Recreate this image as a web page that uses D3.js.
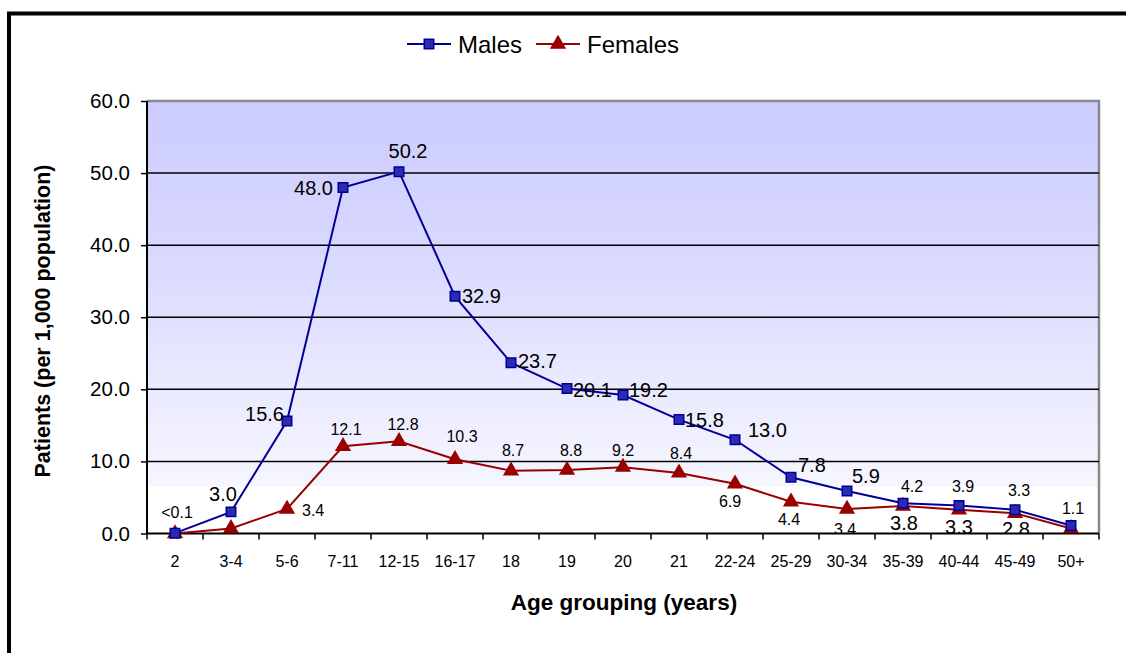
<!DOCTYPE html>
<html>
<head>
<meta charset="utf-8">
<script src="https://cdn.jsdelivr.net/npm/d3@7"></script>
<style>
  html, body { margin: 0; padding: 0; background: #fff; }
  svg { display: block; }
  text { font-family: Arial, "Liberation Sans", sans-serif; fill: #000; }
</style>
</head>
<body>
<svg id="chart" width="1126" height="653"></svg>
<script>
// Age groups along the x axis
const categories = ["2", "3-4", "5-6", "7-11", "12-15", "16-17", "18", "19", "20", "21",
  "22-24", "25-29", "30-34", "35-39", "40-44", "45-49", "50+"];

// Patients per 1,000 population
const males   = [0.05, 3.0, 15.6, 48.0, 50.2, 32.9, 23.7, 20.1, 19.2, 15.8, 13.0, 7.8, 5.9, 4.2, 3.9, 3.3, 1.1];
const females = [0.0, 0.7, 3.4, 12.1, 12.8, 10.3, 8.7, 8.8, 9.2, 8.4, 6.9, 4.4, 3.4, 3.8, 3.3, 2.8, 0.7];

// Data label text (null = no label shown)
const maleLabels   = ["<0.1", "3.0", "15.6", "48.0", "50.2", "32.9", "23.7", "20.1", "19.2", "15.8",
  "13.0", "7.8", "5.9", "4.2", "3.9", "3.3", "1.1"];
const femaleLabels = [null, null, "3.4", "12.1", "12.8", "10.3", "8.7", "8.8", "9.2", "8.4",
  "6.9", "4.4", "3.4", "3.8", "3.3", "2.8", null];

const yTicks = [0, 10, 20, 30, 40, 50, 60];

// Label placement: [anchor, dx, dy, fontSize] relative to the marker
const maleLabelPlace = [
  ["middle", 2, -21, 16], ["middle", -8, -18, 20], ["end", -3, -7, 20], ["end", -10, 0, 20],
  ["middle", 9, -21, 20], ["start", 7, 0, 20], ["start", 7, -2, 20], ["start", 6, 1, 20],
  ["start", 6, -5, 20], ["start", 6, 0, 20], ["start", 13, -10, 20], ["start", 7, -12, 20],
  ["start", 5, -15, 20], ["middle", 9, -17, 16], ["middle", 4, -19, 16], ["middle", 4, -19, 16],
  ["middle", 2, -17, 16]
];
const femaleLabelPlace = [
  null, null, ["start", 15, 2, 16], ["middle", 3, -17, 16], ["middle", 4, -17, 16],
  ["middle", 7, -23, 16], ["middle", 2, -20, 16], ["middle", 4, -20, 16], ["middle", 0, -17, 16],
  ["middle", 2, -19, 16], ["middle", -5, 18, 16], ["middle", -2, 18, 16], ["middle", -2, 21, 16],
  ["middle", 1, 17, 20], ["middle", 0, 17, 20], ["middle", 1, 16, 20], null
];

const maleColor = "#000099";
const femaleColor = "#990000";

const svg = d3.select("#chart");
const plot = { left: 147, right: 1099, top: 101, bottom: 533.5 };

// Outer chart frame (runs past the right and bottom edges)
svg.append("rect")
  .attr("x", 9).attr("y", 13.5)
  .attr("width", 1200).attr("height", 700)
  .attr("fill", "none").attr("stroke", "#000").attr("stroke-width", 4);

const x = d3.scaleBand().domain(categories).range([plot.left, plot.right]).padding(0);
const y = d3.scaleLinear().domain([0, 60]).range([plot.bottom, plot.top]);
const cx = d => x(d) + x.bandwidth() / 2;

// Plot area background gradient
const defs = svg.append("defs");
const grad = defs.append("linearGradient").attr("id", "bg")
  .attr("x1", 0).attr("y1", 0).attr("x2", 0).attr("y2", 1);
grad.append("stop").attr("offset", "0%").attr("stop-color", "#ccccff");
grad.append("stop").attr("offset", "30%").attr("stop-color", "#d6d6ff");
grad.append("stop").attr("offset", "89%").attr("stop-color", "#f6f6ff");
grad.append("stop").attr("offset", "89.2%").attr("stop-color", "#ffffff");
grad.append("stop").attr("offset", "100%").attr("stop-color", "#ffffff");

defs.append("clipPath").attr("id", "plotClip").append("rect")
  .attr("x", plot.left).attr("y", plot.top - 40)
  .attr("width", plot.right - plot.left + 40).attr("height", plot.bottom - plot.top + 40);

svg.append("rect")
  .attr("x", plot.left).attr("y", plot.top)
  .attr("width", plot.right - plot.left).attr("height", plot.bottom - plot.top)
  .attr("fill", "url(#bg)");

// Plot area border (grey top and right)
svg.append("path")
  .attr("d", `M${plot.left},${plot.top} H${plot.right} V${plot.bottom}`)
  .attr("fill", "none").attr("stroke", "#888").attr("stroke-width", 2.5);

// Horizontal gridlines
svg.append("g").selectAll("line")
  .data(yTicks.filter(t => t > 0 && t < 60))
  .join("line")
  .attr("x1", plot.left).attr("x2", plot.right)
  .attr("y1", d => y(d)).attr("y2", d => y(d))
  .attr("stroke", "#000").attr("stroke-width", 1.5);

// Y axis
const yAxis = svg.append("g")
  .attr("transform", `translate(${plot.left},0)`)
  .call(d3.axisLeft(y).tickValues(yTicks).tickFormat(d3.format(".1f")).tickSize(6).tickPadding(11));
yAxis.select(".domain").attr("stroke", "#000").attr("stroke-width", 2).attr("d", `M0,${plot.top}V${plot.bottom}`);
yAxis.selectAll(".tick line").attr("stroke", "#000").attr("stroke-width", 1.5);
yAxis.selectAll(".tick text").attr("font-size", 20.5).attr("font-family", "Arial, 'Liberation Sans', sans-serif").attr("fill", "#000");

// X axis: ticks at category boundaries, labels centred in each band
const xg = svg.append("g");
xg.append("line")
  .attr("x1", plot.left).attr("x2", plot.right)
  .attr("y1", plot.bottom).attr("y2", plot.bottom)
  .attr("stroke", "#000").attr("stroke-width", 2);
xg.selectAll("line.tk")
  .data(categories.concat(["__end"]))
  .join("line").attr("class", "tk")
  .attr("x1", (d, i) => i < categories.length ? x(d) : plot.right)
  .attr("x2", (d, i) => i < categories.length ? x(d) : plot.right)
  .attr("y1", plot.bottom).attr("y2", plot.bottom + 6)
  .attr("stroke", "#000").attr("stroke-width", 1.5);
xg.selectAll("text")
  .data(categories)
  .join("text")
  .attr("x", d => cx(d)).attr("y", plot.bottom + 28)
  .attr("text-anchor", "middle").attr("dominant-baseline", "central")
  .attr("font-size", 16).text(d => d);

// Axis titles
svg.append("text")
  .attr("x", 624).attr("y", 602)
  .attr("text-anchor", "middle").attr("dominant-baseline", "central")
  .attr("font-size", 22.5).attr("font-weight", "bold")
  .text("Age grouping (years)");
svg.append("text")
  .attr("transform", "translate(43,321) rotate(-90)")
  .attr("text-anchor", "middle").attr("dominant-baseline", "central")
  .attr("font-size", 21.5).attr("font-weight", "bold")
  .text("Patients (per 1,000 population)");

// Marker shapes
const squareSym = d3.symbol().type(d3.symbolSquare).size(90);
const triSym = d3.symbol().type(d3.symbolTriangle).size(80);

const line = d3.line().x((d, i) => cx(categories[i])).y(d => y(d));

function drawSeries(values, color, sym, fillColor) {
  const g = svg.append("g");
  g.append("path").datum(values)
    .attr("d", line).attr("fill", "none")
    .attr("stroke", color).attr("stroke-width", 2);
  g.selectAll("path.mk").data(values).join("path").attr("class", "mk")
    .attr("transform", (d, i) => `translate(${cx(categories[i])},${y(d)})`)
    .attr("d", sym)
    .attr("fill", fillColor).attr("stroke", color).attr("stroke-width", 1.5);
}
drawSeries(females, femaleColor, triSym, femaleColor);
drawSeries(males, maleColor, squareSym, "#2b2bb0");

// Data labels (clipped to the plot area)
function drawLabels(values, labels, place) {
  const g = svg.append("g").attr("clip-path", "url(#plotClip)");
  g.selectAll("text")
    .data(values.map((v, i) => ({ v, i, t: labels[i], p: place[i] })).filter(d => d.t && d.p))
    .join("text")
    .attr("x", d => cx(categories[d.i]) + d.p[1])
    .attr("y", d => y(d.v) + d.p[2])
    .attr("text-anchor", d => d.p[0])
    .attr("dominant-baseline", "central")
    .attr("font-size", d => d.p[3])
    .text(d => d.t);
}
drawLabels(males, maleLabels, maleLabelPlace);
drawLabels(females, femaleLabels, femaleLabelPlace);

// Legend
const legend = svg.append("g").attr("transform", "translate(0,44)");
const legendItems = [
  { name: "Males", color: maleColor, sym: squareSym, fill: "#2b2bb0", x0: 407 },
  { name: "Females", color: femaleColor, sym: triSym, fill: femaleColor, x0: 536 }
];
legendItems.forEach(it => {
  legend.append("line").attr("x1", it.x0).attr("x2", it.x0 + 44)
    .attr("y1", 0).attr("y2", 0).attr("stroke", it.color).attr("stroke-width", 2);
  legend.append("path").attr("transform", `translate(${it.x0 + 22},0)`)
    .attr("d", it.sym).attr("fill", it.fill).attr("stroke", it.color).attr("stroke-width", 1.5);
  legend.append("text").attr("x", it.x0 + 51).attr("y", 0)
    .attr("dominant-baseline", "central").attr("font-size", 24).text(it.name);
});
</script>
</body>
</html>
